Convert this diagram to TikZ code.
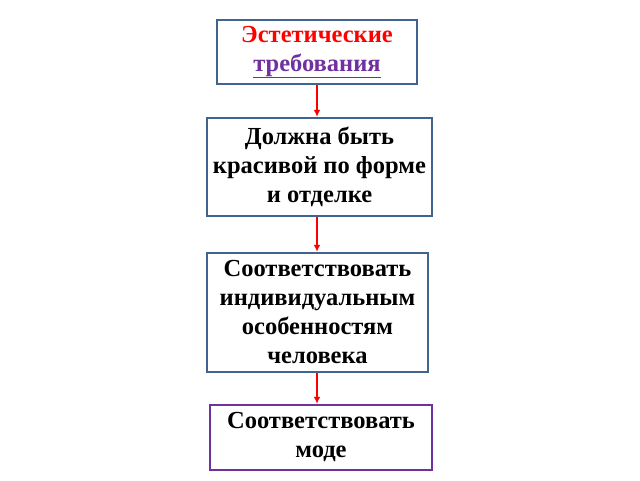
\documentclass[tikz,border=0pt]{standalone}
\usepackage{fontspec}
\setmainfont{Liberation Serif}
\usetikzlibrary{positioning,arrows.meta}
\definecolor{boxblue}{HTML}{41648F}
\definecolor{boxpurple}{HTML}{7030A0}
\tikzset{
  stepbox/.style={draw=boxblue, line width=2.5pt, align=center, font=\bfseries\fontsize{24.5}{29}\selectfont, inner sep=0pt},
  link/.style={-{Latex[length=7pt,width=7pt]}, red, line width=2pt}
}
\begin{document}
\begin{tikzpicture}[x=1pt, y=-1pt]
	\useasboundingbox (0,0) rectangle (640,480);

	\node[stepbox, minimum width=200pt, minimum height=64pt] (aesth) at (317,52) {\textcolor{red}{Эстетические}\\\textcolor{boxpurple}{\underline{требования}}};
	\node[stepbox, minimum width=225pt, minimum height=98pt] (beauty) at (319.5,167) {Должна быть\\красивой по форме\\и отделке};
	\node[stepbox, minimum width=221pt, minimum height=119pt] (person) at (317.5,312.5) {Соответствовать\\индивидуальным\\особенностям\\человека};
	\node[stepbox, draw=boxpurple, minimum width=222pt, minimum height=65pt] (fashion) at (321,437.5) {Соответствовать\\моде};

	\draw[link] (aesth.south -| 317,0) -- (beauty.north -| 317,0);
	\draw[link] (beauty.south -| 317,0) -- (person.north -| 317,0);
	\draw[link] (person.south -| 317,0) -- (fashion.north -| 317,0);

\end{tikzpicture}
\end{document}
